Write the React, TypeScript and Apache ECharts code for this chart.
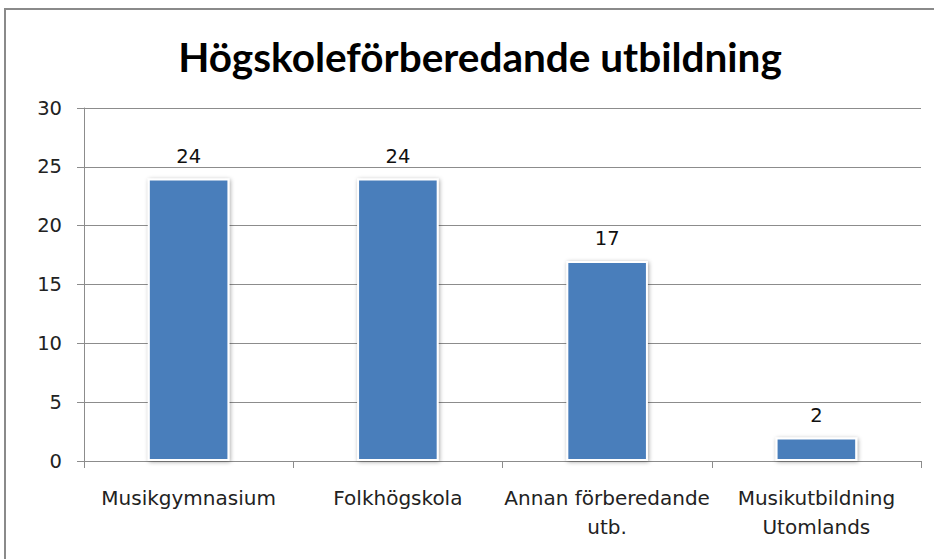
import React, { useEffect, useRef } from "react";
import * as echarts from "echarts";

const titleText = "Högskoleförberedande utbildning";
const categories = ["Musikgymnasium", "Folkhögskola", "Annan förberedande\nutb.", "Musikutbildning\nUtomlands"];
const values = [24, 24, 17, 2];
const yMin = 0;
const yMax = 30;
const yStep = 5;

export default function App() {
  const ref = useRef<HTMLDivElement>(null);
  useEffect(() => {
    if (!ref.current) return;
    const chart = echarts.init(ref.current, null, { renderer: "svg" });
    const font = "'DejaVu Sans', sans-serif";
    const titleFont = "Lato, 'Open Sans', sans-serif";
    chart.setOption({
      animation: false,
      backgroundColor: "#ffffff",
      textStyle: { fontFamily: font },
      graphic: [
        {
          type: "rect",
          shape: { x: 5, y: 9, width: 1000, height: 700 },
          style: { fill: "none", stroke: "#8a8a8a", lineWidth: 2 },
          silent: true,
        },
      ],
      title: {
        text: titleText,
        left: 475,
        top: 31,
        textAlign: "center",
        textStyle: { fontFamily: titleFont, fontSize: 40.5, fontWeight: "bold", color: "#000000" },
      },
      grid: { left: 84, right: 13, top: 108, bottom: 98 },
      xAxis: {
        type: "category",
        data: categories,
        axisLine: { show: true, lineStyle: { color: "#8c8c8c", width: 1 } },
        axisTick: { show: true, length: 7, alignWithLabel: false, lineStyle: { color: "#8c8c8c" } },
        axisLabel: {
          margin: 22,
          fontSize: 20,
          lineHeight: 29,
          color: "#222222",
          fontFamily: font,
          interval: 0,
        },
      },
      yAxis: {
        type: "value",
        min: yMin,
        max: yMax,
        interval: yStep,
        axisLine: { show: true, lineStyle: { color: "#8c8c8c", width: 1 } },
        axisTick: { show: true, length: 7, lineStyle: { color: "#8c8c8c" } },
        splitLine: { show: true, lineStyle: { color: "#8c8c8c", width: 1 } },
        axisLabel: { margin: 22, fontSize: 19.5, color: "#222222", fontFamily: font },
      },
      series: [
        {
          type: "bar",
          data: values,
          barWidth: "39%",
          itemStyle: {
            color: "#4a7ebb",
            borderColor: "#ffffff",
            borderWidth: 2,
            shadowColor: "rgba(0,0,0,0.35)",
            shadowBlur: 4,
            shadowOffsetX: 1,
            shadowOffsetY: 1,
          },
          label: {
            show: true,
            position: "top",
            distance: 12,
            fontSize: 19.5,
            color: "#111111",
            fontFamily: font,
          },
        },
      ],
    });
    return () => chart.dispose();
  }, []);
  return (
    <div
      ref={ref}
      style={{ position: "fixed", left: 0, top: 0, width: 934, height: 559 }}
    />
  );
}
